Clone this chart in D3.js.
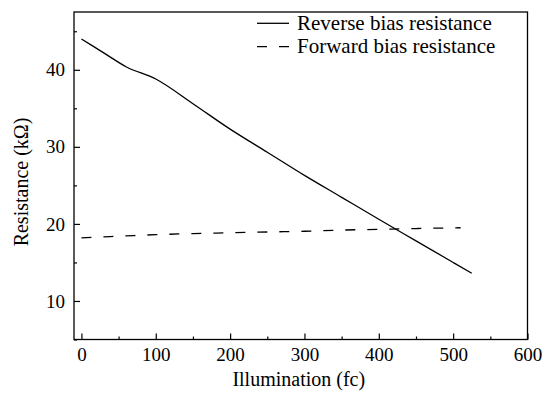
<!DOCTYPE html>
<html>
<head>
<meta charset="utf-8">
<script src="https://cdn.jsdelivr.net/npm/d3@7"></script>
<style>
  body { margin: 0; background: #fff; }
</style>
</head>
<body>
<div class="canvas"></div>
<script>
// data
const reverseX = [0, 30, 60, 100, 150, 200, 250, 300, 350, 400, 450, 500, 525];
const reverseY = [44.0, 42.2, 40.4, 38.8, 35.6, 32.3, 29.3, 26.3, 23.45, 20.6, 17.8, 15.0, 13.6];
const forwardX = [0, 50, 100, 150, 200, 250, 300, 350, 400, 450, 510];
const forwardY = [18.2, 18.4, 18.6, 18.75, 18.85, 18.95, 19.05, 19.2, 19.3, 19.4, 19.5];
const seriesNames = ['Reverse bias resistance', 'Forward bias resistance'];
const xTicks = [0, 100, 200, 300, 400, 500, 600];
const yTicks = [10, 20, 30, 40];

const font = '"Liberation Serif", "DejaVu Serif", "Times New Roman", serif';
const dims = {width: 544, height: 393};
const margin = {left: 74, right: 16.5, top: 12, bottom: 53.5};
const w = dims.width - margin.left - margin.right;
const h = dims.height - margin.top - margin.bottom;

const svg = d3.select('.canvas')
    .append('svg')
    .attr('width', dims.width)
    .attr('height', dims.height)
    .attr('font-family', font);

const graph = svg.append('g')
    .attr('transform', `translate(${margin.left},${margin.top})`);

const x = d3.scaleLinear().domain([-10, 600]).range([0, w]);
const y = d3.scaleLinear().domain([5, 47.5]).range([h, 0]);

// minor ticks first, then major with labels
graph.append('g')
    .attr('transform', `translate(0,${h})`)
    .call(d3.axisBottom(x).tickValues(d3.range(50, 600, 100)).tickSize(-3).tickFormat(''))
    .call(g => g.select('.domain').remove());
graph.append('g')
    .call(d3.axisLeft(y).tickValues([5, 15, 25, 35, 45]).tickSize(-3).tickFormat(''))
    .call(g => g.select('.domain').remove());

const xAxis = graph.append('g')
    .attr('transform', `translate(0,${h})`)
    .call(d3.axisBottom(x).tickValues(xTicks).tickSize(-6).tickPadding(8).tickFormat(d3.format('d')));
const yAxis = graph.append('g')
    .call(d3.axisLeft(y).tickValues(yTicks).tickSize(-6).tickPadding(9).tickFormat(d3.format('d')));

[xAxis, yAxis].forEach(a => {
    a.select('.domain').remove();
    a.attr('font-family', font).attr('font-size', 19);
    a.selectAll('text').attr('fill', '#000');
});
graph.selectAll('.tick line').attr('stroke', '#000').attr('stroke-width', 1.2);

// frame
graph.append('rect')
    .attr('width', w)
    .attr('height', h)
    .attr('fill', 'none')
    .attr('stroke', '#000')
    .attr('stroke-width', 1.3);

// lines
const line = d3.line()
    .x(d => x(d[0]))
    .y(d => y(d[1]))
    .curve(d3.curveMonotoneX);

graph.append('path')
    .datum(d3.zip(reverseX, reverseY))
    .attr('d', line)
    .attr('fill', 'none')
    .attr('stroke', '#000')
    .attr('stroke-width', 1.3);

graph.append('path')
    .datum(d3.zip(forwardX, forwardY))
    .attr('d', line)
    .attr('fill', 'none')
    .attr('stroke', '#000')
    .attr('stroke-width', 1.3)
    .attr('stroke-dasharray', '10,12');

// legend
const legend = svg.append('g').attr('transform', 'translate(257,23.3)');
seriesNames.forEach((name, i) => {
    legend.append('line')
        .attr('x1', 0).attr('x2', 32)
        .attr('y1', i * 23.4).attr('y2', i * 23.4)
        .attr('stroke', '#000')
        .attr('stroke-width', 1.3)
        .attr('stroke-dasharray', i ? '10,12' : null);
    legend.append('text')
        .attr('x', 40)
        .attr('y', i * 23.4)
        .attr('dy', '0.32em')
        .attr('font-size', 21)
        .text(name);
});

// axis titles
svg.append('text')
    .attr('x', margin.left + w / 2 - 2)
    .attr('y', 386)
    .attr('text-anchor', 'middle')
    .attr('font-size', 20)
    .text('Illumination (fc)');

svg.append('text')
    .attr('transform', 'translate(28,182) rotate(-90)')
    .attr('text-anchor', 'middle')
    .attr('font-size', 20)
    .text('Resistance (kΩ)');
</script>
</body>
</html>
